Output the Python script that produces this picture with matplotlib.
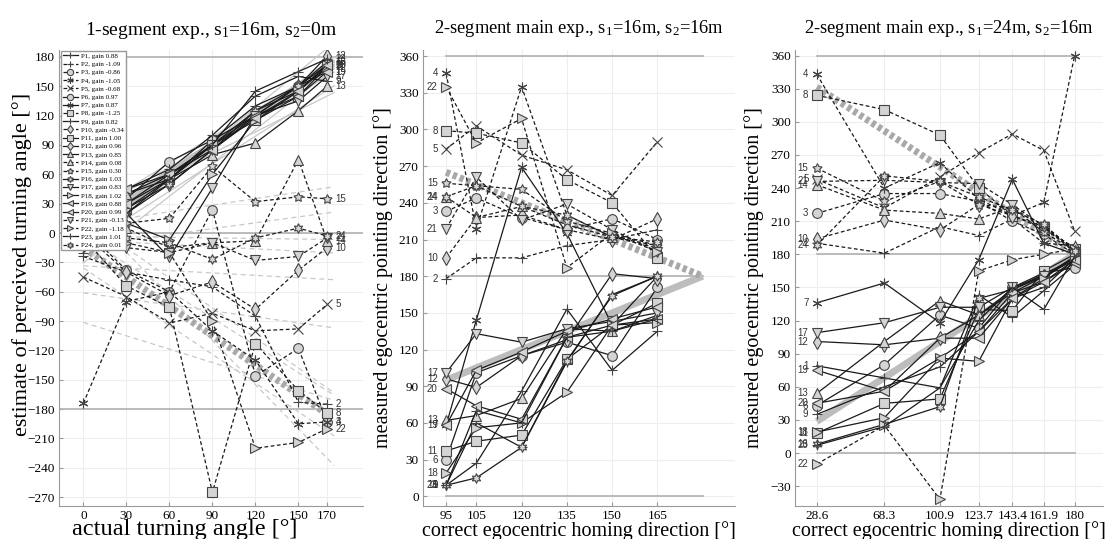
import numpy as np
import matplotlib.pyplot as plt

plt.rcParams['font.family'] = 'Liberation Serif'
plt.rcParams['mathtext.fontset'] = 'custom'
plt.rcParams['mathtext.rm'] = 'Liberation Serif'
plt.rcParams['mathtext.it'] = 'Liberation Serif'
plt.rcParams['mathtext.default'] = 'regular'

# x positions of the three experiments
x1 = [0, 30, 60, 90, 120, 150, 170]
x2 = [95, 105, 120, 135, 150, 165]
x3 = [28.6, 68.3, 100.9, 123.7, 143.4, 161.9, 180]
x3_labels = ['28.6', '68.3', '100.9', '123.7', '143.4', '161.9', '180']

gains = [0.88, -1.09, -0.86, -1.05, -0.68, 0.97, 0.87, -1.25, 0.82, -0.34, 1.00, 0.96,
         0.85, 0.08, 0.30, 1.03, 0.83, 1.02, 0.88, 0.99, -0.13, -1.18, 1.01, 0.01]
dashed_ids = [2, 3, 4, 5, 8, 10, 14, 15, 21, 22, 24]

# estimates, 1-segment exp. (participant 1..24)
p1 = [
    [5, 30, 55, 95, 130, 150, 165],
    [-24, -40, -48, -55, -85, -173, -175],
    [5, -38, -60, 24, -146, -118, -193],
    [-174, -70, -60, -100, -130, -195, -193],
    [-45, -65, -92, -82, -100, -98, -73],
    [0, 35, 73, 95, 120, 150, 172],
    [10, 40, 60, 90, 125, 145, 170],
    [-5, -54, -76, -265, -113, -161, -184],
    [15, 45, 65, 100, 140, 160, 155],
    [0, -40, -64, -50, -78, -38, -15],
    [0, 25, 55, 90, 115, 140, 170],
    [-5, 25, 50, 85, 120, 150, 181],
    [20, 40, 55, 80, 92, 125, 150],
    [-10, 5, -15, -10, -8, 75, -8],
    [0, 10, 15, 68, 32, 37, 35],
    [-10, 20, 50, 85, 125, 150, 175],
    [30, 20, -25, 46, 120, 135, 160],
    [-5, 10, -7, 60, 115, 145, 172],
    [20, 45, 60, 90, 120, 140, 165],
    [0, 30, 60, 85, 118, 145, 172],
    [5, -15, -20, -10, -28, -24, -5],
    [0, -10, -20, -90, -220, -214, -200],
    [-20, 20, 55, 90, 145, 165, 178],
    [10, -5, -10, -27, -5, 5, -3],
]

# 2-segment, s1=16m, s2=16m
p2 = [
    [9, 27, 86, 153, 103, 135],
    [178, 195, 195, 205, 210, 218],
    [233, 244, 228, 218, 227, 210],
    [346, 219, 335, 230, 212, 205],
    [284, 303, 279, 267, 246, 290],
    [30, 101, 115, 126, 115, 171],
    [58, 144, 269, 215, 140, 180],
    [299, 297, 289, 259, 240, 195],
    [9, 60, 40, 110, 165, 180],
    [195, 228, 230, 218, 210, 227],
    [37, 45, 50, 112, 140, 158],
    [96, 89, 115, 128, 182, 178],
    [62, 66, 80, 137, 135, 148],
    [245, 228, 237, 222, 212, 203],
    [256, 254, 251, 225, 215, 205],
    [9, 15, 40, 111, 164, 180],
    [101, 133, 126, 137, 143, 150],
    [19, 56, 60, 85, 140, 142],
    [58, 103, 118, 135, 145, 155],
    [88, 74, 63, 130, 140, 145],
    [219, 261, 226, 239, 218, 200],
    [335, 289, 309, 187, 215, 200],
    [9, 70, 60, 130, 135, 145],
    [245, 254, 237, 230, 212, 208],
]

# 2-segment, s1=24m, s2=16m
p3 = [
    [79, 68, 59, 143, 123, 147, 170],
    [190, 181, 205, 197, 212, 190, 188],
    [217, 235, 235, 228, 210, 198, 180],
    [343, 240, 263, 230, 215, 227, 360],
    [248, 222, 250, 272, 289, 274, 201],
    [43, 80, 125, 113, 150, 163, 168],
    [136, 154, 118, 175, 248, 190, 180],
    [324, 311, 288, 240, 215, 205, 185],
    [35, 60, 78, 110, 140, 150, 176],
    [194, 211, 202, 225, 215, 203, 186],
    [18, 45, 49, 130, 129, 165, 180],
    [101, 98, 104, 125, 145, 160, 178],
    [54, 101, 138, 125, 148, 162, 176],
    [243, 220, 217, 212, 223, 203, 184],
    [258, 228, 246, 225, 222, 200, 183],
    [8, 26, 42, 140, 148, 160, 177],
    [109, 118, 132, 132, 150, 160, 175],
    [19, 32, 86, 83, 140, 158, 178],
    [75, 56, 86, 110, 145, 155, 172],
    [45, 56, 104, 104, 140, 155, 175],
    [246, 247, 245, 244, 225, 205, 182],
    [-10, 25, -42, 165, 175, 180, 185],
    [7, 24, 59, 120, 150, 130, 178],
    [188, 251, 246, 232, 220, 207, 183],
]

# reference (ideal) lines
ref1_x, ref1_pos, ref1_neg = [0, 170], [0, 170], [-15, -185]
ref2_x, ref2_pos, ref2_neg = [95, 180], [95, 180], [265, 180]
ref3_x, ref3_pos, ref3_neg = [28.6, 180], [28.6, 180], [331.4, 180]

AST = (6, 2, 0)
PENT = (5, 1, 0)
HEX = (6, 1, 0)
markers = ['+', '+', 'o', AST, 'x', 'o', AST, 's', '+', 'd', 's', 'd',
           '^', '^', PENT, HEX, 'v', '>', '<', '<', 'v', '>', '+', HEX]

DASH = (0, (3, 2))
HATCH = (0, (0.6, 0.45))


def draw(ax, x, vals, side):
    handles = []
    for i, v in enumerate(vals):
        pid = i + 1
        ls = DASH if pid in dashed_ids else '-'
        h, = ax.plot(x, v, linestyle=ls, color='#1a1a1a', lw=0.9, marker=markers[i],
                     ms=7, mfc='#d4d4d4', mec='#444444', mew=0.8, zorder=3)
        handles.append(h)
        if side == 'right':
            ax.annotate(str(pid), (x[-1], v[-1]), xytext=(6, 0), textcoords='offset points',
                        ha='left', va='center', fontsize=7, family='Liberation Sans', color='#333333')
        else:
            ax.annotate(str(pid), (x[0], v[0]), xytext=(-6, 0), textcoords='offset points',
                        ha='right', va='center', fontsize=7, family='Liberation Sans', color='#333333')
    return handles


def style(ax, xt, xtl, yt, xlim, ylim):
    ax.set_xlim(xlim)
    ax.set_ylim(ylim)
    ax.set_xticks(xt)
    ax.set_xticklabels(xtl)
    ax.set_yticks(yt)
    ax.grid(True, color='#eeeeee', lw=0.8)
    ax.set_axisbelow(True)
    for s in ['top', 'right']:
        ax.spines[s].set_visible(False)
    for s in ['left', 'bottom']:
        ax.spines[s].set_color('#999999')
    ax.tick_params(direction='in', length=3, color='#999999', labelsize=9.5, pad=3)


fig = plt.figure(figsize=(11.07, 5.39), dpi=100)
ax1 = fig.add_axes([0.0533, 0.0612, 0.2746, 0.846])
ax2 = fig.add_axes([0.382, 0.0612, 0.282, 0.846])
ax3 = fig.add_axes([0.718, 0.0612, 0.278, 0.846])

# panel 1
for yv in [180, 0, -180]:
    ax1.axhline(yv, color='#b0b0b0', lw=1.2, zorder=1)
xs = np.array([0, 175])
for i, v in enumerate(p1):
    k, b = np.polyfit(x1, v, 1)
    ls = (0, (4, 3)) if (i + 1) in dashed_ids else '-'
    ax1.plot(xs, k * xs + b, color='#c8c8c8', lw=0.9, linestyle=ls, zorder=1.5)
ax1.plot(ref1_x, ref1_pos, color='#bdbdbd', lw=5, zorder=2, solid_capstyle='butt')
ax1.plot(ref1_x, ref1_neg, color='#a8a8a8', lw=5, linestyle=HATCH, zorder=2)
h = draw(ax1, x1, p1, 'right')
style(ax1, x1, [str(v) for v in x1], np.arange(-270, 181, 30), (-17, 195), (-279, 187))
ax1.set_title('1-segment exp., $s_1$=16m, $s_2$=0m', fontsize=14, pad=11)
ax1.set_xlabel('actual turning angle [°]', fontsize=17.5)
ax1.xaxis.set_label_coords(0.415, -0.029)
ax1.set_ylabel('estimate of perceived turning angle [°]', fontsize=16)
ax1.yaxis.set_label_coords(-0.088, 0.53)
labels = ['P%d, gain %.2f' % (i + 1, g) for i, g in enumerate(gains)]
leg = ax1.legend(h, labels, loc='upper left', bbox_to_anchor=(0.005, 0.998), borderaxespad=0,
                 fontsize=5, labelspacing=0.34, handlelength=2.2, markerscale=0.65,
                 fancybox=False, edgecolor='#999999', framealpha=1, borderpad=0.3,
                 handletextpad=0.4)
leg.set_zorder(10)

# panel 2
for yv in [360, 180, 0]:
    ax2.plot([95, 180], [yv, yv], color='#b0b0b0', lw=1.2, zorder=1)
ax2.plot(ref2_x, ref2_pos, color='#bdbdbd', lw=5, zorder=2, solid_capstyle='butt')
ax2.plot(ref2_x, ref2_neg, color='#a8a8a8', lw=5, linestyle=HATCH, zorder=2)
draw(ax2, x2, p2, 'left')
style(ax2, x2, [str(v) for v in x2], np.arange(0, 361, 30), (87.3, 190.7), (-8, 365))
ax2.set_title('2-segment main exp., $s_1$=16m, $s_2$=16m', fontsize=13.3, pad=12)
ax2.set_xlabel('correct egocentric homing direction [°]', fontsize=14.5)
ax2.xaxis.set_label_coords(0.5, -0.032)
ax2.set_ylabel('measured egocentric pointing direction [°]', fontsize=14.5, labelpad=4)

# panel 3
for yv in [360, 180, 0]:
    ax3.plot([28.6, 180], [yv, yv], color='#b0b0b0', lw=1.2, zorder=1)
ax3.plot(ref3_x, ref3_pos, color='#bdbdbd', lw=5, zorder=2, solid_capstyle='butt')
ax3.plot(ref3_x, ref3_neg, color='#a8a8a8', lw=5, linestyle=HATCH, zorder=2)
draw(ax3, x3, p3, 'left')
style(ax3, x3, x3_labels, np.arange(-30, 361, 30), (15.7, 196.4), (-48, 365))
ax3.set_title('2-segment main exp., $s_1$=24m, $s_2$=16m', fontsize=13.3, pad=12)
ax3.set_xlabel('correct egocentric homing direction [°]', fontsize=14.5)
ax3.xaxis.set_label_coords(0.5, -0.032)
ax3.set_ylabel('measured egocentric pointing direction [°]', fontsize=14.5, labelpad=4)

fig.savefig('out.png', dpi=100)
